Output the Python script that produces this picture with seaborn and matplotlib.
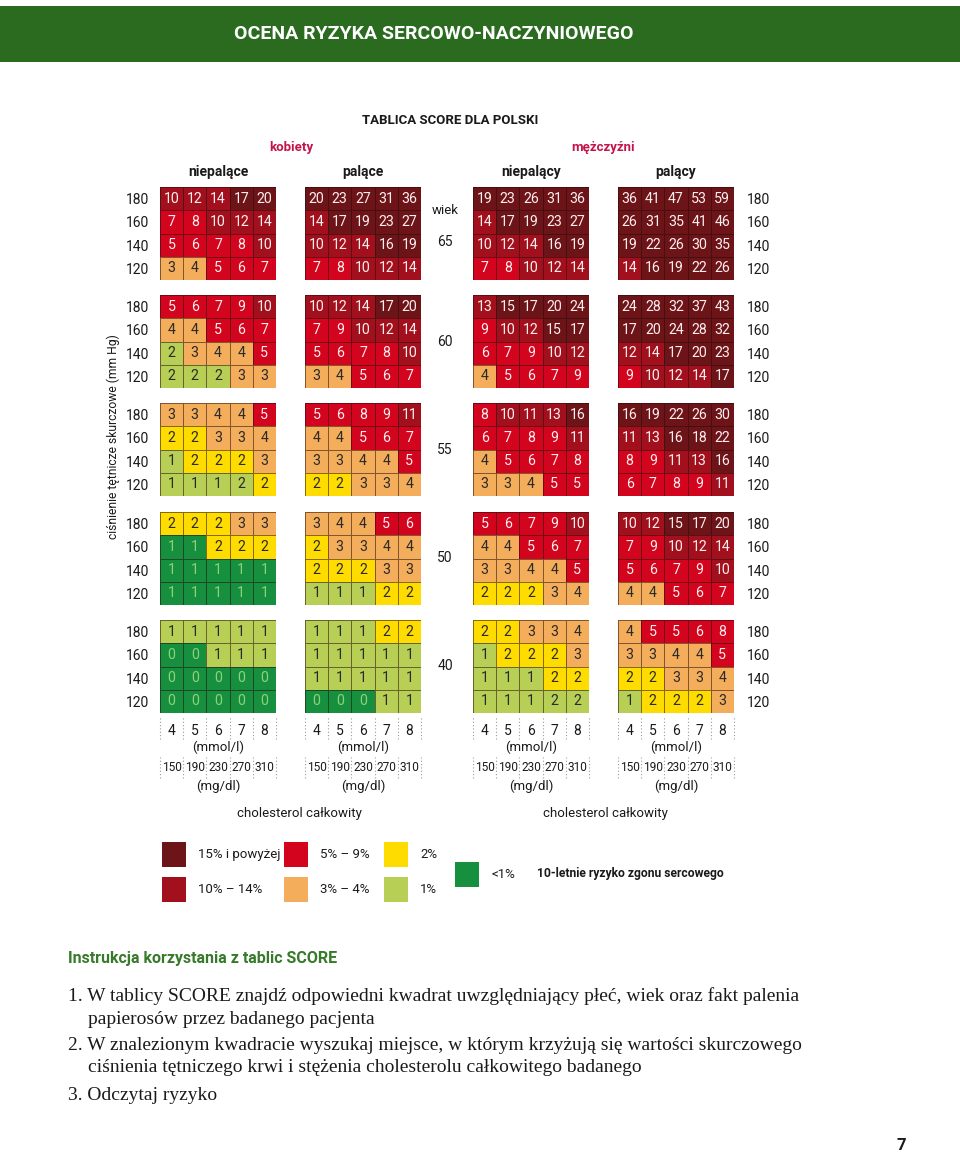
import numpy as np
import matplotlib
matplotlib.use("Agg")
import matplotlib.pyplot as plt
import matplotlib.transforms as mtransforms
from matplotlib.colors import ListedColormap
from matplotlib.patches import Rectangle
import seaborn as sns

# ---------------- data ----------------
chol_mmol = [4, 5, 6, 7, 8]
chol_mgdl = [150, 190, 230, 270, 310]
sbp = [180, 160, 140, 120]
ages = [65, 60, 55, 50, 40]

# rows: SBP 180,160,140,120 ; columns: cholesterol 4..8 mmol/l
women_nonsmoking = {
    65: [[10, 12, 14, 17, 20], [7, 8, 10, 12, 14], [5, 6, 7, 8, 10], [3, 4, 5, 6, 7]],
    60: [[5, 6, 7, 9, 10], [4, 4, 5, 6, 7], [2, 3, 4, 4, 5], [2, 2, 2, 3, 3]],
    55: [[3, 3, 4, 4, 5], [2, 2, 3, 3, 4], [1, 2, 2, 2, 3], [1, 1, 1, 2, 2]],
    50: [[2, 2, 2, 3, 3], [1, 1, 2, 2, 2], [1, 1, 1, 1, 1], [1, 1, 1, 1, 1]],
    40: [[1, 1, 1, 1, 1], [0, 0, 1, 1, 1], [0, 0, 0, 0, 0], [0, 0, 0, 0, 0]],
}
women_smoking = {
    65: [[20, 23, 27, 31, 36], [14, 17, 19, 23, 27], [10, 12, 14, 16, 19], [7, 8, 10, 12, 14]],
    60: [[10, 12, 14, 17, 20], [7, 9, 10, 12, 14], [5, 6, 7, 8, 10], [3, 4, 5, 6, 7]],
    55: [[5, 6, 8, 9, 11], [4, 4, 5, 6, 7], [3, 3, 4, 4, 5], [2, 2, 3, 3, 4]],
    50: [[3, 4, 4, 5, 6], [2, 3, 3, 4, 4], [2, 2, 2, 3, 3], [1, 1, 1, 2, 2]],
    40: [[1, 1, 1, 2, 2], [1, 1, 1, 1, 1], [1, 1, 1, 1, 1], [0, 0, 0, 1, 1]],
}
men_nonsmoking = {
    65: [[19, 23, 26, 31, 36], [14, 17, 19, 23, 27], [10, 12, 14, 16, 19], [7, 8, 10, 12, 14]],
    60: [[13, 15, 17, 20, 24], [9, 10, 12, 15, 17], [6, 7, 9, 10, 12], [4, 5, 6, 7, 9]],
    55: [[8, 10, 11, 13, 16], [6, 7, 8, 9, 11], [4, 5, 6, 7, 8], [3, 3, 4, 5, 5]],
    50: [[5, 6, 7, 9, 10], [4, 4, 5, 6, 7], [3, 3, 4, 4, 5], [2, 2, 2, 3, 4]],
    40: [[2, 2, 3, 3, 4], [1, 2, 2, 2, 3], [1, 1, 1, 2, 2], [1, 1, 1, 2, 2]],
}
men_smoking = {
    65: [[36, 41, 47, 53, 59], [26, 31, 35, 41, 46], [19, 22, 26, 30, 35], [14, 16, 19, 22, 26]],
    60: [[24, 28, 32, 37, 43], [17, 20, 24, 28, 32], [12, 14, 17, 20, 23], [9, 10, 12, 14, 17]],
    55: [[16, 19, 22, 26, 30], [11, 13, 16, 18, 22], [8, 9, 11, 13, 16], [6, 7, 8, 9, 11]],
    50: [[10, 12, 15, 17, 20], [7, 9, 10, 12, 14], [5, 6, 7, 9, 10], [4, 4, 5, 6, 7]],
    40: [[4, 5, 5, 6, 8], [3, 3, 4, 4, 5], [2, 2, 3, 3, 4], [1, 2, 2, 2, 3]],
}
groups = [women_nonsmoking, women_smoking, men_nonsmoking, men_smoking]
group_titles = ["niepalące", "palące", "niepalący", "palący"]

risk_labels = ["<1%", "1%", "2%", "3% – 4%", "5% – 9%", "10% – 14%", "15% i powyżej"]
risk_colors = ["#16903f", "#b8cf55", "#ffdc00", "#f4ad5a", "#d3041d", "#a3101d", "#6d1419"]
risk_bins = [1, 2, 3, 5, 10, 15]   # lower bounds of classes 1..6

# cells whose colour class differs from the rounded value (group idx, age, row, col, class)
class_overrides = [
    (0, 60, 2, 0, 1), (0, 60, 3, 0, 1), (0, 60, 3, 1, 1), (0, 60, 3, 2, 1),
    (0, 55, 3, 3, 1),
    (0, 50, 1, 0, 0), (0, 50, 1, 1, 0),
    (0, 50, 2, 0, 0), (0, 50, 2, 1, 0), (0, 50, 2, 2, 0), (0, 50, 2, 3, 0), (0, 50, 2, 4, 0),
    (0, 50, 3, 0, 0), (0, 50, 3, 1, 0), (0, 50, 3, 2, 0), (0, 50, 3, 3, 0), (0, 50, 3, 4, 0),
    (2, 40, 3, 3, 1), (2, 40, 3, 4, 1),
]

# ---------------- figure ----------------
sns.set_theme(style="white")
plt.rcParams['font.family'] = ['Roboto', 'DejaVu Sans']

W, H = 960, 1152
fig = plt.figure(figsize=(W / 100, H / 100), dpi=100)
fig.patch.set_facecolor("white")


def px_axes(x, y, w, h):
    return fig.add_axes([x / W, 1 - (y + h) / H, w / W, h / H])


def ftext(x, y, s, **kw):
    kw.setdefault("ha", "center")
    kw.setdefault("va", "center")
    return fig.text(x / W, 1 - y / H, s, **kw)


def frect(x, y, w, h, color):
    fig.add_artist(Rectangle((x / W, 1 - (y + h) / H), w / W, h / H,
                             transform=fig.transFigure, facecolor=color,
                             edgecolor="none"))


# header band
frect(0, 6, W, 56, "#2a6b20")
ftext(434, 34, "OCENA RYZYKA SERCOWO-NACZYNIOWEGO", color="white",
      fontsize=14, fontweight="bold")

ftext(450, 121, "TABLICA SCORE DLA POLSKI", fontsize=9.5, fontweight="bold", color="#1a1a1a")
ftext(291, 147, "kobiety", fontsize=9.5, fontweight="bold", color="#c4144c")
ftext(603, 147, "mężczyźni", fontsize=9.5, fontweight="bold", color="#c4144c")

col_x = [160, 305, 473, 618]
row_y = [187, 295, 403, 512, 620]
PW, PH = 116, 93

cmap = ListedColormap(risk_colors)
text_colors = ["#8fd07a", "#2a2a2a", "#2a2a2a", "#2a2a2a", "#fdeeee", "#fdeeee", "#fdeeee"]
lab_color = "#1a1a1a"

for gi, group in enumerate(groups):
    ftext(col_x[gi] + PW / 2, 172, group_titles[gi], fontsize=10,
          fontweight="semibold", color=lab_color)
    for ai, age in enumerate(ages):
        vals = np.array(group[age])
        cls = np.digitize(vals, risk_bins)
        for (g, a, r, c, k) in class_overrides:
            if g == gi and a == age:
                cls[r, c] = k
        ax = px_axes(col_x[gi], row_y[ai], PW, PH)
        sns.heatmap(cls, ax=ax, cmap=cmap, vmin=-0.5, vmax=6.5, cbar=False,
                    annot=vals, fmt="d", linewidths=0.6,
                    linecolor=(0.15, 0.05, 0.05, 0.55),
                    xticklabels=False, yticklabels=False,
                    annot_kws=dict(fontsize=10.2))
        for t in ax.texts:
            x, y = t.get_position()
            t.set_color(text_colors[cls[int(y), int(x)]])
        ax.tick_params(length=0)
        if gi == 0:
            ax.set_yticks(np.arange(len(sbp)) + 0.5)
            ax.set_yticklabels(sbp, rotation=0, fontsize=10, color=lab_color)
            ax.tick_params(axis="y", pad=8)
        if gi == 3:
            ax.yaxis.tick_right()
            ax.set_yticks(np.arange(len(sbp)) + 0.5)
            ax.set_yticklabels(sbp, rotation=0, fontsize=10, color=lab_color)
            ax.tick_params(axis="y", pad=9, length=0)
        if ai == len(ages) - 1:
            ax.set_xticks(np.arange(len(chol_mmol)) + 0.5)
            ax.set_xticklabels(chol_mmol, fontsize=10, color=lab_color)
            ax.tick_params(axis="x", pad=8, length=0)
            trans = mtransforms.blended_transform_factory(ax.transData, ax.transAxes)
            bottom = row_y[ai] + PH

            def yf(ypx):
                return -(ypx - bottom) / PH

            xs = np.arange(len(chol_mmol) + 1)
            ax.vlines(xs, yf(739), yf(717), transform=trans, colors="#9a9a9a",
                      linestyles=(0, (1, 2)), lw=0.8, clip_on=False)
            ax.vlines(xs, yf(778), yf(757), transform=trans, colors="#9a9a9a",
                      linestyles=(0, (1, 2)), lw=0.8, clip_on=False)
            ax.text(2.5, yf(747), "(mmol/l)", transform=trans, ha="center",
                    va="center", fontsize=9.5, color=lab_color)
            for xi, mg in enumerate(chol_mgdl):
                ax.text(xi + 0.5, yf(767), str(mg), transform=trans, ha="center",
                        va="center", fontsize=8.6, color=lab_color)
            ax.text(2.5, yf(786), "(mg/dl)", transform=trans, ha="center",
                    va="center", fontsize=9.5, color=lab_color)

# age labels
ftext(445, 210, "wiek", fontsize=9.5, color=lab_color)
for ai, age in enumerate(ages):
    yc = row_y[ai] + PH / 2 + (8 if ai == 0 else 0)
    ftext(445, yc, str(age), fontsize=10, color=lab_color)

ftext(113, 437, "ciśnienie tętnicze skurczowe (mm Hg)", rotation=90,
      fontsize=8.7, color=lab_color)

ftext(299, 813, "cholesterol całkowity", fontsize=9.5, color=lab_color)
ftext(605, 813, "cholesterol całkowity", fontsize=9.5, color=lab_color)

# legend
legend_pos = {6: (162, 842), 5: (162, 877), 4: (284, 842), 3: (284, 877),
              2: (384, 842), 1: (384, 877), 0: (455, 862)}
for k, (lx, ly) in legend_pos.items():
    frect(lx, ly, 24, 25, risk_colors[k])
    ftext(lx + 36, ly + 12.5, risk_labels[k], ha="left", fontsize=9.5,
          color=lab_color)
ftext(537, 874, "10-letnie ryzyko zgonu sercowego", ha="left", fontsize=8.7,
      fontweight="bold", color=lab_color)

# instructions
ftext(68, 958, "Instrukcja korzystania z tablic SCORE", ha="left", fontsize=11.5,
      fontweight="bold", color="#367a2a")
serif = ["Liberation Serif", "DejaVu Serif"]
lines = [
    (68, 996, "1. W tablicy SCORE znajdź odpowiedni kwadrat uwzględniający płeć, wiek oraz fakt palenia"),
    (88, 1019, "papierosów przez badanego pacjenta"),
    (68, 1046, "2. W znalezionym kwadracie wyszukaj miejsce, w którym krzyżują się wartości skurczowego"),
    (88, 1068, "ciśnienia tętniczego krwi i stężenia cholesterolu całkowitego badanego"),
    (68, 1095, "3. Odczytaj ryzyko"),
]
for lx, ly, s in lines:
    ftext(lx, ly, s, ha="left", fontsize=14, family=serif, color=lab_color)

ftext(901, 1145, "7", fontsize=12, fontweight="bold", color=lab_color)

fig.savefig("out.png", dpi=100, facecolor="white")
